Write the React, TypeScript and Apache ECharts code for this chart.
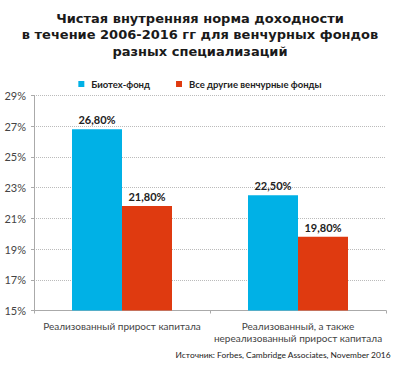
import React, { useEffect, useRef } from "react";
import * as echarts from "echarts";

const categories = ["Реализованный прирост капитала", "Реализованный, а также\nнереализованный прирост капитала"];
const seriesNames = ["Биотех-фонд", "Все другие венчурные фонды"];
const biotech = [26.8, 22.5];
const others = [21.8, 19.8];
const titleText = "Чистая внутренняя норма доходности\nв течение 2006-2016 гг для венчурных фондов\nразных специализаций";
const sourceText = "Источник: Forbes, Cambridge Associates, November 2016";

const FONT = "Lato, 'Noto Sans', sans-serif";

export default function App() {
  const ref = useRef<HTMLDivElement>(null);
  useEffect(() => {
    if (!ref.current) return;
    const chart = echarts.init(ref.current, undefined, { renderer: "svg" });
    const fmt = (v: number) => v.toFixed(2).replace(".", ",") + "%";
    const valueLabel = {
      show: true,
      position: "top",
      formatter: (p: any) => fmt(p.value),
      fontFamily: FONT,
      fontSize: 11,
      fontWeight: "bold",
      color: "#222",
      distance: 4,
    };
    chart.setOption({
      animation: false,
      backgroundColor: "#fff",
      title: {
        text: titleText,
        left: "center",
        top: 5,
        textStyle: { fontFamily: "'DejaVu Sans', sans-serif", fontWeight: "bold", fontSize: 13, lineHeight: 16.5, color: "#1a1a1a" },
      },
      legend: {
        top: 74,
        left: "center",
        icon: "rect",
        itemWidth: 6,
        itemHeight: 6,
        itemGap: 26,
        textStyle: { fontFamily: FONT, fontSize: 9.5, fontWeight: "bold", color: "#222", padding: [0, 0, 0, 2] },
        data: seriesNames,
      },
      grid: { left: 34, right: 14, top: 95.5, bottom: 59.5 },
      xAxis: {
        type: "category",
        data: categories,
        axisLine: { lineStyle: { color: "#aaa" } },
        axisTick: { show: true, length: 3, lineStyle: { color: "#aaa" } },
        axisLabel: { interval: 0, fontFamily: FONT, fontSize: 10, color: "#444", margin: 9, lineHeight: 12 },
      },
      yAxis: {
        type: "value",
        min: 15,
        max: 29,
        interval: 2,
        axisLine: { show: true, lineStyle: { color: "#aaa" } },
        axisTick: { show: true, length: 3, lineStyle: { color: "#aaa" } },
        axisLabel: { fontFamily: FONT, fontSize: 11, color: "#444", formatter: (v: number) => v + "%", margin: 8 },
        splitLine: { show: true, lineStyle: { type: "dotted", color: "#bbb" } },
      },
      series: [
        {
          name: seriesNames[0],
          type: "bar",
          data: biotech,
          barWidth: 50,
          barGap: "0%",
          itemStyle: { color: "#00B1E6" },
          label: valueLabel,
        },
        {
          name: seriesNames[1],
          type: "bar",
          data: others,
          barWidth: 50,
          itemStyle: { color: "#DF3A10" },
          label: valueLabel,
        },
      ],
      graphic: [
        {
          type: "text",
          right: 9,
          top: 351,
          style: { text: sourceText, fontFamily: FONT, fontSize: 8.4, fill: "#222" },
        },
      ],
    });
    return () => chart.dispose();
  }, []);
  return <div ref={ref} style={{ width: 400, height: 370, position: "absolute", left: 0, top: 0 }} />;
}
